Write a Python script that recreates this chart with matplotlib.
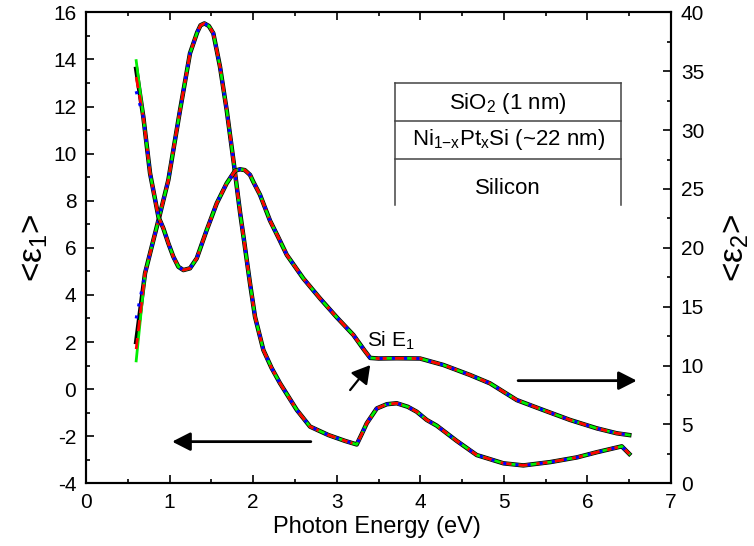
import matplotlib
matplotlib.use("Agg")
import matplotlib.pyplot as plt
from matplotlib.ticker import MultipleLocator

plt.rcParams['font.family'] = ['Liberation Sans', 'DejaVu Sans']
plt.rcParams['mathtext.fontset'] = 'custom'
plt.rcParams['mathtext.rm'] = 'Liberation Sans'
plt.rcParams['mathtext.it'] = 'Liberation Sans'
plt.rcParams['mathtext.bf'] = 'Liberation Sans:bold'
plt.rcParams['axes.unicode_minus'] = False

# <eps1> (left axis)
e1_energy = [0.6, 0.706, 0.806, 0.877, 0.985, 1.065, 1.125, 1.244, 1.33, 1.37,
             1.416, 1.47, 1.523, 1.603, 1.683, 1.763, 1.843, 1.891, 1.962, 2.022,
             2.122, 2.22, 2.321, 2.521, 2.68, 2.9, 3.1, 3.239, 3.3, 3.359,
             3.479, 3.6, 3.718, 3.85, 3.957, 4.077, 4.196, 4.436, 4.675, 4.994,
             5.233, 5.552, 5.872, 6.111, 6.41, 6.5]
e1 = [2.0, 4.92, 6.33, 7.32, 8.88, 10.58, 11.85, 14.26, 15.15, 15.45,
      15.53, 15.42, 15.11, 13.69, 11.85, 9.73, 7.5, 6.3, 4.49, 3.07,
      1.66, 0.9, 0.25, -0.88, -1.59, -1.95, -2.2, -2.35, -1.9, -1.45,
      -0.82, -0.64, -0.60, -0.75, -0.96, -1.31, -1.55, -2.2, -2.8, -3.15,
      -3.24, -3.1, -2.9, -2.68, -2.43, -2.75]

# <eps2> (right axis)
e2_energy = [0.6, 0.686, 0.766, 0.866, 0.925, 0.985, 1.045, 1.105, 1.165, 1.244,
             1.325, 1.444, 1.564, 1.683, 1.783, 1.843, 1.9, 1.962, 2.002, 2.082,
             2.202, 2.30, 2.402, 2.6, 2.8, 3.0, 3.199, 3.33, 3.40, 3.5,
             3.718, 3.997, 4.276, 4.595, 4.834, 5.154, 5.472, 5.792, 6.111, 6.35,
             6.5]
e2 = [34.5, 31.1, 26.33, 22.64, 21.66, 20.38, 19.24, 18.39, 18.11, 18.26,
      19.11, 21.51, 23.78, 25.48, 26.55, 26.67, 26.6, 26.2, 25.6, 24.5,
      22.3, 20.9, 19.4, 17.4, 15.7, 14.1, 12.6, 11.3, 10.65, 10.6,
      10.62, 10.6, 10.05, 9.2, 8.49, 7.07, 6.22, 5.38, 4.67, 4.25,
      4.10]

# the four overlaid curves only differ at the first point
series_colors = ['black', '#00ee00', 'red', 'blue']
e1_first = [2.0, 1.2, 1.7, 3.0]
e2_first = [35.2, 35.9, 34.5, 33.3]

fig = plt.figure(figsize=(7.54, 5.46), dpi=100)
ax = fig.add_axes([0.1141, 0.1148, 0.7759, 0.8626])
ax2 = ax.twinx()

styles = [dict(ls='-', lw=3.2),
          dict(ls='-', lw=2.0),
          dict(ls=(0, (4, 2.5)), lw=2.0),
          dict(ls=(0, (1, 3)), lw=2.2)]

for c, st, f1, f2 in zip(series_colors, styles, e1_first, e2_first):
    ax.plot(e1_energy, [f1] + e1[1:], color=c, **st)
    ax2.plot(e2_energy, [f2] + e2[1:], color=c, **st)

ax.set_xlim(0, 7)
ax.set_ylim(-4, 16)
ax2.set_ylim(0, 40)

ax.xaxis.set_major_locator(MultipleLocator(1))
ax.xaxis.set_minor_locator(MultipleLocator(0.5))
ax.yaxis.set_major_locator(MultipleLocator(2))
ax.yaxis.set_minor_locator(MultipleLocator(1))
ax2.yaxis.set_major_locator(MultipleLocator(5))
ax2.yaxis.set_minor_locator(MultipleLocator(2.5))

ax.tick_params(which='both', direction='in', top=True, right=False, width=1.2, labelsize=15, pad=7)
ax.tick_params(which='major', length=6)
ax.tick_params(which='minor', length=3)
ax2.tick_params(which='both', direction='in', width=1.2, labelsize=15, pad=7)
ax2.tick_params(which='major', length=6)
ax2.tick_params(which='minor', length=3)

for a in (ax, ax2):
    for s in a.spines.values():
        s.set_linewidth(1.5)

fig.text(0.5, 0.035, 'Photon Energy (eV)', fontsize=17, ha='center', va='center')
fig.text(0.046, 0.546, r'<ε$_1$>', fontsize=24, rotation=90, ha='center', va='center')
fig.text(0.976, 0.546, r'<ε$_2$>', fontsize=24, rotation=90, ha='center', va='center')

# arrows telling which axis each curve belongs to
big = dict(arrowstyle='-|>,head_length=0.55,head_width=0.28', lw=2, color='black',
           mutation_scale=20, shrinkA=0, shrinkB=0)
ax.annotate('', xy=(1.03, -2.23), xytext=(2.69, -2.23), arrowprops=big)
ax.annotate('', xy=(6.59, 0.36), xytext=(5.17, 0.36), arrowprops=big)
small = dict(arrowstyle='-|>,head_length=0.6,head_width=0.35', lw=1.6, color='black',
             mutation_scale=18, shrinkA=0, shrinkB=0)
ax.annotate('', xy=(3.40, 1.02), xytext=(3.16, -0.04), arrowprops=small)
ax.text(3.36, 1.79, r'Si E$_1$', fontsize=15, va='baseline', ha='left')

# layer stack sketch
bx0, bx1 = 0.528, 0.915
box_kw = dict(color='#444444', lw=1.1, transform=ax.transAxes, clip_on=False)
for yy in (0.8505, 0.770, 0.6886):
    ax.plot([bx0, bx1], [yy, yy], **box_kw)
for xx in (bx0, bx1):
    ax.plot([xx, xx], [0.591, 0.8505], **box_kw)
cx = (bx0 + bx1) / 2
ax.text(cx, 0.807, r'SiO$_2$ (1 nm)', transform=ax.transAxes, ha='center', va='center', fontsize=16)
ax.text(cx, 0.729, r'Ni$_{1\mathrm{-}x}$Pt$_x$Si (~22 nm)', transform=ax.transAxes,
        ha='center', va='center', fontsize=16)
ax.text(cx, 0.626, 'Silicon', transform=ax.transAxes, ha='center', va='center', fontsize=16)

fig.savefig('out.png', dpi=100, facecolor='white')
